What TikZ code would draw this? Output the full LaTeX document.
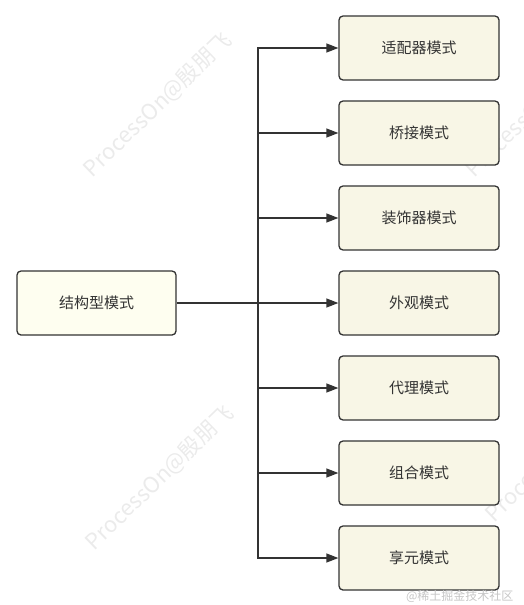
\documentclass[tikz,border=0pt]{standalone}
\usepackage{fontspec}
\setmainfont{Noto Sans CJK SC}
\usetikzlibrary{arrows.meta}
\definecolor{rootfill}{HTML}{FEFEF0}
\definecolor{boxfill}{HTML}{F8F6E6}
\definecolor{edge}{HTML}{333333}
\definecolor{wm}{HTML}{EBEBEB}
\tikzset{
  rootbox/.style={draw=edge, line width=1.3pt, fill=rootfill, rounded corners=4pt,
    minimum width=159pt, minimum height=64pt, inner sep=0pt, text=edge,
    font=\fontsize{15}{18}\selectfont},
  leafbox/.style={draw=edge, line width=1.3pt, fill=boxfill, rounded corners=4pt,
    minimum width=160pt, minimum height=64pt, inner sep=0pt, text=edge,
    font=\fontsize{15}{18}\selectfont},
  conn/.style={draw=edge, line width=1.3pt},
  arr/.style={conn, -{Triangle[length=12pt, width=9pt]}},
  wmark/.style={text=wm, rotate=44, font=\fontsize{22}{26}\selectfont},
}
\begin{document}
\begin{tikzpicture}[x=1pt, y=-1pt]
\useasboundingbox (0,0) rectangle (523,605);
\begin{scope}
\clip (0,0) rectangle (523,605);
\node[wmark] (w1) at (158,105) {ProcessOn@殷朋飞};
\node[wmark] (w2) at (160,478) {ProcessOn@殷朋飞};
\node[wmark] (w3) at (540,105) {ProcessOn@殷朋飞};
\node[wmark] (w4) at (560,450) {ProcessOn@殷朋飞};
\end{scope}
\node[rootbox] (root) at (96.5,303) {结构型模式};
\node[leafbox] (a1) at (419,48) {适配器模式};
\node[leafbox] (a2) at (419,133) {桥接模式};
\node[leafbox] (a3) at (419,218) {装饰器模式};
\node[leafbox] (a4) at (419,303) {外观模式};
\node[leafbox] (a5) at (419,388) {代理模式};
\node[leafbox] (a6) at (419,473) {组合模式};
\node[leafbox] (a7) at (419,558) {享元模式};
\coordinate (j) at (258,303);
\draw[conn, line width=2pt] (root.east) -- (j);
\foreach \i in {1,...,7} {
  \draw[arr] (j) |- (a\i.west);
}
\node[text=gray!45, font=\fontsize{12}{14}\selectfont, anchor=east] (wm5) at (517,596) {@稀土掘金技术社区};
\end{tikzpicture}
\end{document}
